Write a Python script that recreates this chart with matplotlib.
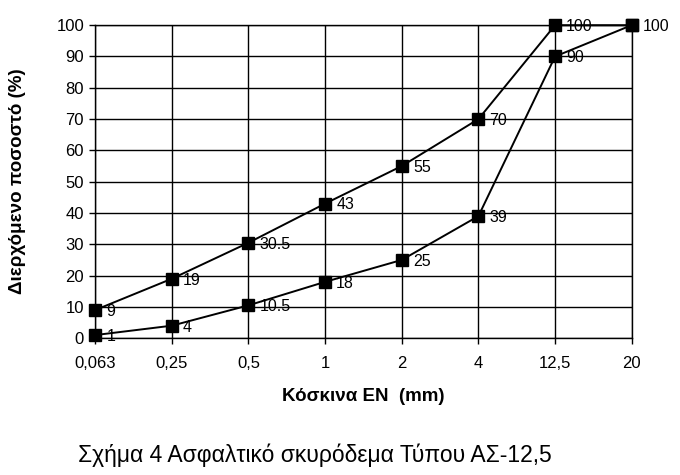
import matplotlib
matplotlib.use('Agg')
import matplotlib.pyplot as plt

plt.rcParams['font.family'] = ['Liberation Sans', 'DejaVu Sans']

sieves = ['0,063', '0,25', '0,5', '1', '2', '4', '12,5', '20']
upper = [9, 19, 30.5, 43, 55, 70, 100, 100]
lower = [1, 4, 10.5, 18, 25, 39, 90, 100]
upper_labels = ['9', '19', '30.5', '43', '55', '70', '100', '100']
lower_labels = ['1', '4', '10.5', '18', '25', '39', '90', '']

fig = plt.figure(figsize=(6.8, 4.75), dpi=100)
ax = fig.add_axes([0.140, 0.288, 0.789, 0.659])

x = list(range(len(sieves)))
for vals, labs in ((upper, upper_labels), (lower, lower_labels)):
    ax.plot(x, vals, color='black', lw=1.4, marker='s', markersize=9,
            markerfacecolor='black', markeredgecolor='black', clip_on=False, zorder=3)
    for xi, v, lab in zip(x, vals, labs):
        if lab:
            ax.annotate(lab, (xi, v), xytext=(8, -1), textcoords='offset points',
                        ha='left', va='center', fontsize=11.5, zorder=4)

ax.set_xlim(0, len(sieves) - 1)
ax.set_ylim(0, 100)
ax.set_xticks(x)
ax.set_xticklabels(sieves, fontsize=12)
ax.set_yticks(range(0, 101, 10))
ax.tick_params(axis='y', labelsize=12, length=4, width=1, pad=4)
ax.tick_params(axis='x', length=4, width=1, pad=9)
ax.grid(True, color='black', lw=1.0)
ax.set_axisbelow(True)
for s in ax.spines.values():
    s.set_linewidth(1.0)

ax.set_ylabel('Διερχόμενο ποσοστό (%)', fontsize=13.5, fontweight='bold', labelpad=22)
ax.set_xlabel('Κόσκινα ΕΝ  (mm)', fontsize=13.5, fontweight='bold', labelpad=12)

fig.text(0.463, 0.042, 'Σχήμα 4 Ασφαλτικό σκυρόδεμα Τύπου ΑΣ-12,5', ha='center',
         va='center', fontsize=16.5)

fig.savefig('out.png', dpi=100)
